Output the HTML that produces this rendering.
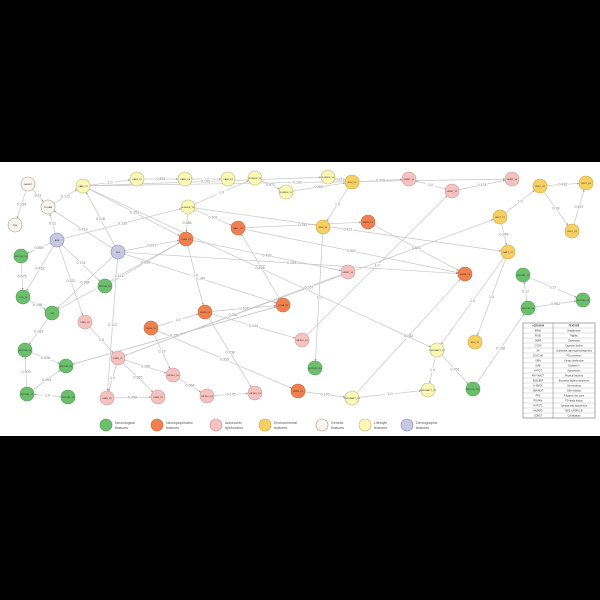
<!DOCTYPE html>
<html><head><meta charset="utf-8"><style>
html,body{margin:0;padding:0;background:#000;}
svg{display:block;font-family:"Liberation Sans",sans-serif;}
</style></head><body>
<svg id="chart" width="600" height="600" viewBox="0 0 600 600">
<rect x="0" y="0" width="600" height="600" fill="#000"/>
<rect x="0" y="162" width="600" height="274" fill="#fff"/>
<defs><marker id="ar" viewBox="0 0 6 6" refX="6" refY="3" markerWidth="3" markerHeight="3" orient="auto"><path d="M0,0L6,3L0,6z" fill="#999"/></marker></defs>
<g id="edges"></g><g id="nodes"></g><g id="legend"></g><g id="table"></g>
</svg>
<script>
const nodeNames=["DA-MUT","PD-FAM","PRS","AGE","SEX","MOTOR_V4","COG_V6","SN","MOTOR_V5","URIN_V4","CAFE_V1","CAFE_V2","CAFE_V3","CAFE_V4","N-SMOK_V1","N-SMOK_V2","N-SMOK_V3","HALL_V1","SLEE_V1","DEPR_V4","DEPR_V2","COGA_V4","MOTOR_V9","MOTOR_V6","MOTOR_V7","MOTOR_V8","URIN_V1","URIN_V2","URIN_V3","ORTHO_V2","ORTHO_V3","ORTHO_V4","ORTHO_V1","DEPR_V1","N-SMOK_V4","EDU_V1","URINT_V1","URINT_V2","URINT_V4","PEST_V2","PEST_V3","PEST_V1","PEST_V4","EDU_V4","SEXH_V1","DAILY_V1","URINT_V3","DEPR_V3","MOTOR_V1","MOTOR_V2","MOTOR_V3","EDU_V2","PHY-INACT_V1","MOTOR_V10","PHY-INACT_V2","PHY-INACT_V3","MOTOR_V11"];
const nodeX=[28,48,15,57,118,21,23,52,105,85,83,137,185,228,255,286,188,238,186,205,151,283,25,66,27,68,118,107,158,173,207,255,302,298,328,352,409,452,512,540,586,500,572,323,368,508,348,465,523,583,528,475,437,315,428,352,473];
const nodeY=[184,207,225,240,252,256,297,313,286,322,186,179,179,179,178,192,207,228,239,312,328,305,350,366,394,397,358,398,397,375,396,393,340,391,177,182,179,191,179,186,183,217,231,227,222,252,272,274,275,300,308,342,350,368,390,398,389];
const nodeGroup=["gen","gen","gen","dem","dem","neu","neu","neu","neu","aut","life","life","life","life","life","life","life","npsy","npsy","npsy","npsy","npsy","neu","neu","neu","neu","aut","aut","aut","aut","aut","aut","aut","npsy","life","env","aut","aut","aut","env","env","env","env","env","npsy","env","aut","npsy","neu","neu","neu","env","life","neu","life","life","neu"];
const edgeFrom=["DA-MUT","DA-MUT","PD-FAM","AGE","AGE","AGE","MOTOR_V4","COG_V6","AGE","AGE","AGE","SEX","SEX","SEX","SEX","SEX","SEX","CAFE_V1","CAFE_V2","CAFE_V3","N-SMOK_V1","N-SMOK_V3","CAFE_V1","CAFE_V1","N-SMOK_V3","SN","MOTOR_V9","MOTOR_V7","MOTOR_V7","MOTOR_V8","URIN_V4","URIN_V1","URIN_V1","URIN_V2","URIN_V1","ORTHO_V2","ORTHO_V3","DEPR_V2","SLEE_V1","DEPR_V4","DEPR_V4","DEPR_V2","DEPR_V2","COGA_V4","HALL_V1","N-SMOK_V2","N-SMOK_V4","EDU_V1","URINT_V2","URINT_V2","PEST_V1","PEST_V2","PEST_V2","PEST_V4","PEST_V1","DAILY_V1","DAILY_V1","MOTOR_V3","MOTOR_V3","MOTOR_V1","MOTOR_V11","PHY-INACT_V1","PHY-INACT_V1","PHY-INACT_V3","DEPR_V1","HALL_V1","SEXH_V1","EDU_V1","EDU_V4","ORTHO_V1","URINT_V3","SLEE_V1","SEX","MOTOR_V5","N-SMOK_V3","CAFE_V1","DEPR_V4","COGA_V4","SN","MOTOR_V6","URIN_V1","PHY-INACT_V3","N-SMOK_V3","CAFE_V1"];
const edgeTo=["PD-FAM","PRS","CAFE_V1","PD-FAM","MOTOR_V4","COG_V6","COG_V6","SN","URIN_V4","MOTOR_V5","N-SMOK_V3","PD-FAM","CAFE_V1","SLEE_V1","SN","COGA_V4","DEPR_V3","CAFE_V2","CAFE_V3","CAFE_V4","N-SMOK_V2","N-SMOK_V1","SLEE_V1","N-SMOK_V4","SLEE_V1","MOTOR_V9","MOTOR_V6","MOTOR_V9","MOTOR_V6","MOTOR_V7","URIN_V1","URIN_V2","URIN_V3","URIN_V3","ORTHO_V2","ORTHO_V3","ORTHO_V4","DEPR_V4","DEPR_V4","COGA_V4","ORTHO_V4","ORTHO_V2","DEPR_V1","HALL_V1","DEPR_V3","EDU_V1","EDU_V1","URINT_V1","URINT_V1","URINT_V4","PEST_V2","PEST_V3","PEST_V4","PEST_V3","DAILY_V1","EDU_V2","PHY-INACT_V1","MOTOR_V1","MOTOR_V2","MOTOR_V2","MOTOR_V3","PHY-INACT_V2","MOTOR_V11","PHY-INACT_V2","PHY-INACT_V3","SEXH_V1","DEPR_V3","EDU_V4","MOTOR_V10","URINT_V2","URIN_V1","URINT_V3","URIN_V2","SLEE_V1","HALL_V1","URINT_V4","ORTHO_V1","MOTOR_V6","SLEE_V1","COGA_V4","PEST_V1","DEPR_V3","DAILY_V1","PHY-INACT_V1"];
const edgeWeight=["0.11","0.154","0.172","0.12","0.569","0.452","0.675","0.196","0.322","0.701","0.135","0.419","0.216","0.672","0.384","0.184","0.159","1.0","0.891","1.0","0.971","1.0","0.151","0.103","0.386","0.183","0.928","0.303","0.094","1.0","1.0","1.0","0.583","0.458","0.168","0.964","0.175","1.0","1.0","0.107","0.708","0.13","0.319","0.983","0.502","0.899","0.219","0.219","1.0","0.174","1.0","0.492","0.99","0.497","0.346","1.0","1.0","0.17","0.962","0.17","0.198","1.0","0.751","1.0","0.176","0.241","0.631","1.0","1.0","1.0","0.284","0.493","0.113","0.659","0.101","0.192","0.244","0.122","0.111","0.156","0.267","0.183","0.421","0.818"];
const fills={neu:"#6cbf6c",npsy:"#f0804e",aut:"#f5c2c0",env:"#f7d063",gen:"#fbf4ef",life:"#f9f8b6",dem:"#c8c8e2"};
const strokes={neu:"#4d9a50",npsy:"#c8643c",aut:"#c29a98",env:"#caa23c",gen:"#a89c94",life:"#b8b47a",dem:"#8a8aae"};
const NS="http://www.w3.org/2000/svg";
function mk(t,a,p){const e=document.createElementNS(NS,t);for(const k in a)e.setAttribute(k,a[k]);p.appendChild(e);return e;}
const idx=n=>nodeNames.indexOf(n);
const eg=document.getElementById('edges');
for(let i=0;i<edgeFrom.length;i++){
 const a=idx(edgeFrom[i]),b=idx(edgeTo[i]);
 const x1=nodeX[a],y1=nodeY[a],x2=nodeX[b],y2=nodeY[b];
 const d=Math.hypot(x2-x1,y2-y1)||1,r=7;
 const ln=mk('line',{x1:x1+(x2-x1)*r/d,y1:y1+(y2-y1)*r/d,x2:x2-(x2-x1)*r/d,y2:y2-(y2-y1)*r/d,stroke:"#c6c6c6","stroke-width":0.7,"marker-end":"url(#ar)"},eg);
 
 
 const mx=(x1+x2)/2,my=(y1+y2)/2;
 mk('rect',{x:mx-5,y:my-2,width:10,height:4,fill:"#fff"},eg);
 const t=mk('text',{x:mx,y:my+1.2,"font-size":3.6,fill:"#777","text-anchor":"middle"},eg);
 t.textContent=edgeWeight[i];
 
 
}
const ng=document.getElementById('nodes');
for(let i=0;i<nodeNames.length;i++){
 const g=mk('g',{},ng);
 
 
 mk('circle',{cx:nodeX[i],cy:nodeY[i],r:7,fill:fills[nodeGroup[i]],stroke:strokes[nodeGroup[i]],"stroke-width":0.6},g);
 const t=mk('text',{x:nodeX[i],y:nodeY[i]+0.8,"font-size":2.2,fill:"#222","text-anchor":"middle"},g);
 t.textContent=nodeNames[i];
}
const legendKeys=["neu","npsy","aut","env","gen","life","dem"];
const legendL1=["Neurological","Neuropsychiatric","Autonomic","Environmental","Genetic","Lifestyle","Demographic"];
const legendL2=["features","features","dysfunction","features","features","features","features"];
const legendX=[106,157,216,265,322,365,407];
const lg=document.getElementById('legend');
for(let i=0;i<legendKeys.length;i++){
 const g=mk('g',{},lg);
 
 
 mk('circle',{cx:legendX[i],cy:425,r:6,fill:fills[legendKeys[i]],stroke:strokes[legendKeys[i]],"stroke-width":0.6},g);
 const t1=mk('text',{x:legendX[i]+9,y:424,"font-size":3.6,fill:"#555"},g);t1.textContent=legendL1[i];
 const t2=mk('text',{x:legendX[i]+9,y:429,"font-size":3.6,fill:"#555"},g);t2.textContent=legendL2[i];
}
const acr=["ACRONYM","BRAD","RIGID","DEPR","COGN","SN","COGCHG","URIN","DIAB","HYPOT","PHY-INACT","EDSLEEP","N-SMOK","DBA-MUT","PRS","PD-FAM","HYPOT2","HAZARD","CONST"];
const full=["FEATURE","Bradykinesia","Rigidity","Depression","Cognitive decline","Substantia nigra hyperechogenicity","PD conversion","Urinary dysfunction","Diabetes II","Hypotension","Physical inactivity","Excessive daytime sleepiness","Non-smoking","GBA mutation","Polygenic risk score","PD family history","Symptomatic hypotension","MDS_UPDRS_III","Constipation"];
const tb=document.getElementById('table');


mk('rect',{x:523,y:323,width:72,height:95,fill:"#fff",stroke:"#555","stroke-width":0.5},tb);
mk('line',{x1:553,y1:323,x2:553,y2:418,stroke:"#555","stroke-width":0.4},tb);
const rh=95/acr.length;
for(let i=0;i<acr.length;i++){
 const y=323+rh*i;
 if(i>0)mk('line',{x1:523,y1:y,x2:595,y2:y,stroke:"#888","stroke-width":0.25},tb);
 const a=mk('text',{x:538,y:y+rh*0.7,"font-size":2.3,fill:"#333","text-anchor":"middle","font-weight":i?"normal":"bold"},tb);a.textContent=acr[i];
 const b=mk('text',{x:574,y:y+rh*0.7,"font-size":2.3,fill:"#333","text-anchor":"middle","font-weight":i?"normal":"bold"},tb);b.textContent=full[i];
}
</script>
</body></html>
